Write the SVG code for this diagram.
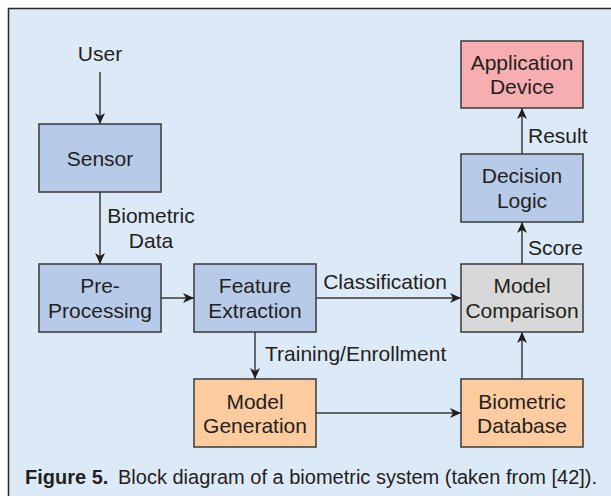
<svg xmlns="http://www.w3.org/2000/svg" width="611" height="496" viewBox="0 0 611 496">
<style>
text{font-family:"Liberation Sans",Arial,sans-serif;font-size:21px;fill:#231f20}
text.cap{font-size:20px}
.c{text-anchor:middle;dominant-baseline:central}
.l{dominant-baseline:central}
.box{stroke:#3a3a3a;stroke-width:1.5}
.blue{fill:#b7cbe8}
.pink{fill:#f7aeb0}
.orange{fill:#fccb9f}
.gray{fill:#d8d8d8}
.edge{stroke:#3a3a3a;stroke-width:1.5;fill:none;marker-end:url(#ah)}
</style>
<defs>
<marker id="ah" markerWidth="12" markerHeight="10" refX="11" refY="5" orient="auto" markerUnits="userSpaceOnUse">
<path d="M0,0 L11,5 L0,10 L3,5 Z" fill="#231f20"/>
</marker>
</defs>
<rect x="8.5" y="8.5" width="620" height="500" fill="#dce9f6" stroke="#2a2a2a" stroke-width="1.5"/>
<g id="connectors">
<path class="edge" d="M100,72 V124"/>
<path class="edge" d="M100,192 V264"/>
<path class="edge" d="M161,298 H194"/>
<path class="edge" d="M316,298 H461"/>
<path class="edge" d="M255,332 V379"/>
<path class="edge" d="M316,413 H461"/>
<path class="edge" d="M522,379 V332"/>
<path class="edge" d="M522,264 V222"/>
<path class="edge" d="M522,154 V108"/>
<text class="c" x="151" y="215">Biometric</text>
<text class="c" x="151" y="240">Data</text>
<text class="c" x="385" y="281">Classification</text>
<text class="l" x="265" y="353">Training/Enrollment</text>
<text class="l" x="528" y="247">Score</text>
<text class="l" x="528" y="135">Result</text>
</g>
<g id="user"><text class="c" x="100" y="53">User</text></g>
<g id="sensor"><rect class="box blue" x="39" y="124" width="122" height="68"/><text class="c" x="100" y="158">Sensor</text></g>
<g id="preprocessing"><rect class="box blue" x="39" y="264" width="122" height="68"/><text class="c" x="100" y="285.5">Pre-</text><text class="c" x="100" y="310">Processing</text></g>
<g id="feature"><rect class="box blue" x="194" y="264" width="122" height="68"/><text class="c" x="255" y="285.5">Feature</text><text class="c" x="255" y="310">Extraction</text></g>
<g id="comparison"><rect class="box gray" x="461" y="264" width="122" height="68"/><text class="c" x="522" y="285.5">Model</text><text class="c" x="522" y="310">Comparison</text></g>
<g id="modelgen"><rect class="box orange" x="194" y="379" width="122" height="68"/><text class="c" x="255" y="401">Model</text><text class="c" x="255" y="425.5">Generation</text></g>
<g id="database"><rect class="box orange" x="461" y="379" width="122" height="68"/><text class="c" x="522" y="401">Biometric</text><text class="c" x="522" y="425.5">Database</text></g>
<g id="decision"><rect class="box blue" x="461" y="154" width="122" height="68"/><text class="c" x="522" y="175.5">Decision</text><text class="c" x="522" y="200">Logic</text></g>
<g id="application"><rect class="box pink" x="461" y="41" width="122" height="67"/><text class="c" x="522" y="62">Application</text><text class="c" x="522" y="86.5">Device</text></g>
<text class="cap" x="25" y="484"><tspan font-weight="bold">Figure 5.</tspan><tspan x="118">Block diagram of a biometric system (taken from [42]).</tspan></text>
</svg>
